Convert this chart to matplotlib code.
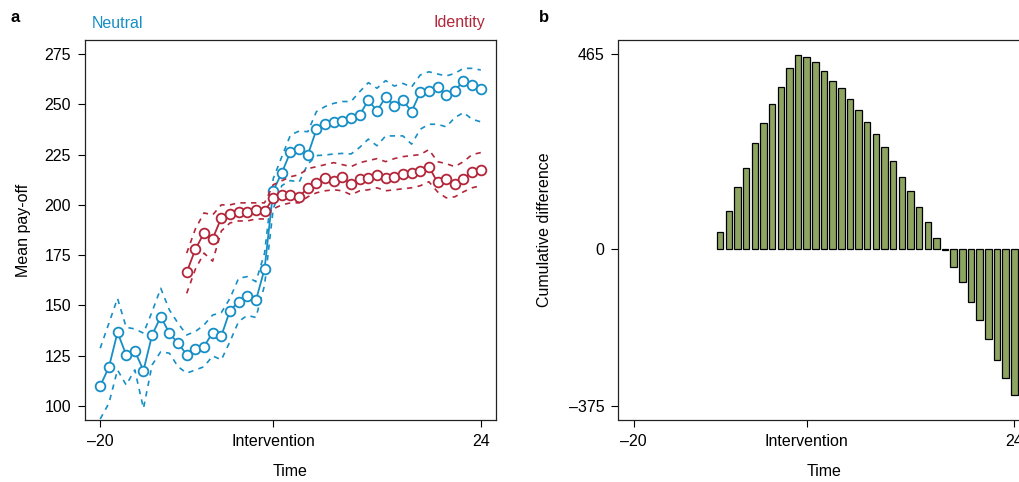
import matplotlib
matplotlib.use("Agg")
import matplotlib.pyplot as plt
import numpy as np

plt.rcParams['font.family'] = ['Liberation Sans', 'DejaVu Sans']

# ---------------- data ----------------
time_neutral = list(range(-20, 25))
neutral_mean = [110.0, 119.2, 136.6, 125.4, 127.3, 117.6, 135.3, 144.4, 136.1, 131.2,
                125.5, 128.2, 129.5, 136.5, 134.8, 147.4, 151.7, 154.8, 152.5, 168.1,
                207.0, 216.0, 226.4, 227.6, 224.8, 237.5, 240.0, 241.0, 241.8, 243.0,
                244.7, 252.1, 246.7, 253.6, 249.3, 252.0, 246.4, 256.0, 256.5, 258.5,
                254.8, 256.7, 261.8, 259.5, 257.6]
neutral_upper = [128.7, 141.1, 153.5, 139.1, 138.3, 136.2, 146.9, 158.5, 147.7, 141.1,
                 135.3, 137.0, 140.3, 145.2, 146.4, 153.5, 163.5, 164.3, 161.8, 176.0,
                 213.0, 224.0, 234.8, 236.7, 236.4, 246.4, 248.9, 250.5, 251.4, 251.4,
                 256.3, 260.8, 258.0, 261.8, 259.1, 260.4, 258.6, 264.6, 266.2, 265.1,
                 264.1, 265.4, 267.9, 267.9, 267.1]
neutral_lower = [93.5, 101.3, 117.9, 110.4, 117.9, 98.8, 120.4, 127.0, 126.2, 119.5,
                 116.3, 117.9, 119.5, 124.9, 122.9, 132.0, 142.0, 145.0, 144.0, 160.0,
                 198.0, 209.6, 212.1, 211.3, 220.3, 224.5, 224.8, 225.3, 225.6, 225.3,
                 228.6, 232.7, 229.4, 234.3, 234.3, 234.3, 230.2, 237.6, 240.1, 240.1,
                 238.8, 243.4, 245.9, 242.6, 241.3]

time_identity = list(range(-10, 25))
identity_mean = [166.5, 177.9, 186.0, 183.2, 193.5, 195.5, 196.6, 196.3, 197.3, 196.8,
                 203.3, 205.1, 204.9, 204.1, 208.4, 210.7, 213.2, 212.0, 213.7, 210.4,
                 212.9, 213.2, 214.9, 213.2, 214.0, 215.2, 215.7, 216.8, 219.0, 211.2,
                 212.7, 210.2, 212.9, 216.3, 217.3]
identity_upper = [176.0, 188.0, 196.0, 195.0, 200.0, 200.0, 201.0, 201.0, 201.0, 201.0,
                  210.0, 212.0, 214.0, 215.0, 218.0, 219.0, 220.0, 221.0, 220.0, 219.0,
                  221.0, 222.0, 223.0, 221.5, 223.0, 224.0, 224.5, 225.0, 227.5, 221.5,
                  220.5, 219.0, 221.5, 225.0, 226.0]
identity_lower = [156.0, 168.0, 176.0, 172.0, 187.0, 191.0, 192.0, 192.0, 193.0, 193.0,
                  198.0, 200.0, 201.0, 201.0, 204.0, 206.0, 207.0, 207.5, 207.0, 205.0,
                  207.0, 207.5, 208.5, 207.0, 207.5, 208.0, 208.5, 209.5, 211.5, 206.5,
                  203.5, 204.0, 206.5, 208.5, 209.5]

time_diff = list(range(-10, 25))
cumulative_diff = [41, 91, 147, 194, 252, 301, 346, 387, 432, 462,
                   457, 446, 425, 401, 385, 358, 331, 302, 273, 242,
                   209, 171, 138, 99, 63, 26, -2, -44, -80, -127,
                   -169, -216, -265, -308, -348]

x_ticks = [-20, 0, 24]
x_ticklabels = ['\u201320', 'Intervention', '24']
left_yticks = [100, 125, 150, 175, 200, 225, 250, 275]
right_yticks = [-375, 0, 465]
right_yticklabels = ['\u2013375', '0', '465']

# ---------------- style ----------------
BLUE = '#168ec6'
RED = '#b3263a'
GREEN = '#8ea562'
FS = 11.5

fig = plt.figure(figsize=(10.2, 4.82), dpi=100)
W, H = 1020, 482
ax1 = fig.add_axes([85 / W, 62 / H, 411 / W, 380 / H])
ax2 = fig.add_axes([618.5 / W, 62 / H, 411 / W, 380 / H])

xlim = (-21.76, 25.76)

# Panel a
for t, m, u, l, c in [(time_neutral, neutral_mean, neutral_upper, neutral_lower, BLUE),
                      (time_identity, identity_mean, identity_upper, identity_lower, RED)]:
    ax1.plot(t, u, color=c, lw=1.2, ls=(0, (3.2, 3.2)))
    ax1.plot(t, l, color=c, lw=1.2, ls=(0, (3.2, 3.2)))
    ax1.plot(t, m, color=c, lw=1.3, marker='o', ms=7, mfc='white', mec=c, mew=1.3)

ax1.set_xlim(*xlim)
ax1.set_ylim(93, 282)
ax1.set_yticks(left_yticks)
ax1.set_xticks(x_ticks)
ax1.set_xticklabels(x_ticklabels)
ax1.set_ylabel('Mean pay-off', fontsize=FS, labelpad=10)
ax1.set_xlabel('Time', fontsize=FS, labelpad=11)

# Panel b
ax2.bar(time_diff, cumulative_diff, width=0.75, color=GREEN, edgecolor='black', linewidth=0.9)
ax2.set_xlim(*xlim)
ax2.set_ylim(-408.6, 498.6)
ax2.set_yticks(right_yticks)
ax2.set_yticklabels(right_yticklabels)
ax2.set_xticks(x_ticks)
ax2.set_xticklabels(x_ticklabels)
ax2.set_ylabel('Cumulative difference', fontsize=FS, labelpad=12)
ax2.set_xlabel('Time', fontsize=FS, labelpad=11)

for ax in (ax1, ax2):
    ax.tick_params(direction='out', length=5, width=0.8, labelsize=FS, pad=5)
    for s in ax.spines.values():
        s.set_linewidth(0.9)
        s.set_color('#222222')

fig.text(92 / W, 1 - 23 / H, 'Neutral', color=BLUE, fontsize=FS, va='center', ha='left')
fig.text(485 / W, 1 - 23 / H, 'Identity', color=RED, fontsize=FS, va='center', ha='right')
fig.text(11 / W, 1 - 17 / H, 'a', fontsize=12, fontweight='bold', va='center', ha='left')
fig.text(539 / W, 1 - 17 / H, 'b', fontsize=12, fontweight='bold', va='center', ha='left')

fig.savefig('out.png', dpi=100)
